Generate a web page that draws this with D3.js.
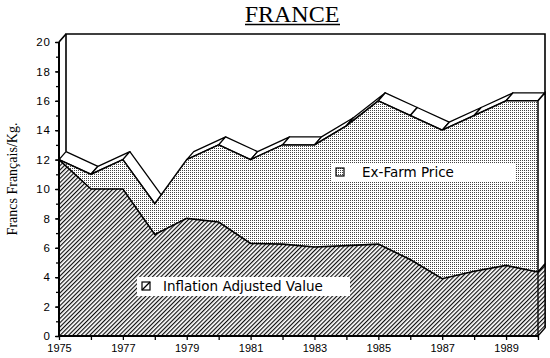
<!DOCTYPE html>
<html>
<head>
<meta charset="utf-8">
<script src="https://cdn.jsdelivr.net/npm/d3@7"></script>
<style>
  body { margin: 0; background: #fff; }
  svg { display: block; }
</style>
</head>
<body>
<svg width="550" height="358"></svg>
<script>
/*
Chart data
*/
var years = [1975, 1976, 1977, 1978, 1979, 1980, 1981, 1982, 1983, 1984, 1985, 1986, 1987, 1988, 1989, 1990];
var exFarmPrice = [12.0, 11.0, 12.0, 9.0, 12.0, 13.0, 12.0, 13.0, 13.0, 14.3, 16.0, 15.0, 14.0, 15.0, 16.0, 16.0];
var inflationAdjusted = [12.0, 10.0, 10.0, 6.9, 8.0, 7.75, 6.3, 6.25, 6.05, 6.15, 6.25, 5.2, 3.9, 4.4, 4.8, 4.35];
var xLabelYears = [1975, 1977, 1979, 1981, 1983, 1985, 1987, 1989];
var yTicks = [0, 2, 4, 6, 8, 10, 12, 14, 16, 18, 20];
var yMinorTicks = d3.range(0, 21, 1);

var svg = d3.select('svg');

// 3D depth offset of the back wall
var dx = 7, dy = -8;

var x = d3.scaleLinear().domain([1975, 1990]).range([59, 538]);
var y = d3.scaleLinear().domain([0, 20]).range([336, 42]);

/*
Fill patterns
*/
var defs = svg.append('defs');
var stip = defs.append('pattern').attr('id', 'stipple')
	.attr('patternUnits', 'userSpaceOnUse').attr('width', 2).attr('height', 2);
stip.append('rect').attr('width', 2).attr('height', 2).attr('fill', '#fff');
stip.append('rect').attr('width', 1).attr('height', 1).attr('fill', '#444');

var hatch = defs.append('pattern').attr('id', 'hatch')
	.attr('patternUnits', 'userSpaceOnUse').attr('width', 3).attr('height', 3)
	.attr('patternTransform', 'rotate(45)');
hatch.append('rect').attr('width', 3).attr('height', 3).attr('fill', '#fff');
hatch.append('line').attr('x1', 0.6).attr('y1', 0).attr('x2', 0.6).attr('y2', 3)
	.attr('stroke', '#000').attr('stroke-width', 1.1);

/*
Back wall of the box
*/
var frame = svg.append('g').attr('fill', 'none').attr('stroke', '#000').attr('stroke-width', 1.6);
frame.append('path').attr('d', d3.line()([
	[x(1975) + dx, y(12) + dy], [x(1975) + dx, y(20) + dy], [x(1990) + dx, y(20) + dy], [x(1990) + dx, y(0) + dy]
]));
frame.append('line').attr('x1', x(1975)).attr('y1', y(20)).attr('x2', x(1975) + dx).attr('y2', y(20) + dy);

/*
Top ribbon of the Ex-Farm price (only the faces turned to the viewer)
*/
var ribbon = svg.append('g');
for (var i = 0; i < years.length - 1; i++) {
	var p0 = [x(years[i]), y(exFarmPrice[i])];
	var p1 = [x(years[i + 1]), y(exFarmPrice[i + 1])];
	var ddx = p1[0] - p0[0], ddy = p1[1] - p0[1];
	var cross = ddx * dy - ddy * dx;
	if (cross > 0) continue; // face hidden behind the steep front
	ribbon.append('path')
		.attr('d', d3.line()([p0, p1, [p1[0] + dx, p1[1] + dy], [p0[0] + dx, p0[1] + dy]]) + 'Z')
		.attr('fill', '#fff').attr('stroke', '#000').attr('stroke-width', 1.3)
		.attr('stroke-linejoin', 'round');
}

/*
Ex-Farm price area
*/
var areaEx = d3.area()
	.x(function(d, i){ return x(years[i]); })
	.y0(y(0))
	.y1(function(d){ return y(d); });
var lineTop = d3.line()
	.x(function(d, i){ return x(years[i]); })
	.y(function(d){ return y(d); });

svg.append('path').attr('d', areaEx(exFarmPrice)).attr('fill', 'url(#stipple)');
svg.append('path').attr('d', lineTop(exFarmPrice)).attr('fill', 'none')
	.attr('stroke', '#000').attr('stroke-width', 1.5);

// right side face of the price block
var last = years.length - 1;
svg.append('path')
	.attr('d', d3.line()([
		[x(1990), y(exFarmPrice[last])], [x(1990) + dx, y(exFarmPrice[last]) + dy],
		[x(1990) + dx, y(inflationAdjusted[last]) + dy], [x(1990), y(inflationAdjusted[last])]
	]) + 'Z')
	.attr('fill', '#fff').attr('stroke', '#000').attr('stroke-width', 1.5);

/*
Inflation adjusted value area
*/
svg.append('path').attr('d', areaEx(inflationAdjusted)).attr('fill', 'url(#hatch)');
svg.append('path').attr('d', lineTop(inflationAdjusted)).attr('fill', 'none')
	.attr('stroke', '#000').attr('stroke-width', 1.6);
svg.append('path')
	.attr('d', d3.line()([
		[x(1990), y(inflationAdjusted[last])], [x(1990) + dx, y(inflationAdjusted[last]) + dy],
		[x(1990) + dx, y(0) + dy], [x(1990), y(0)]
	]) + 'Z')
	.attr('fill', 'url(#hatch)').attr('stroke', '#000').attr('stroke-width', 1.3);

/*
Axes
*/
var axisFont = '"Liberation Sans", Arial, sans-serif';

var yMinor = svg.append('g').attr('transform', 'translate(' + x(1975) + ',0)')
	.call(d3.axisLeft(y).tickValues(yMinorTicks).tickSize(3).tickFormat(''));
var yAxis = svg.append('g').attr('transform', 'translate(' + x(1975) + ',0)')
	.call(d3.axisLeft(y).tickValues(yTicks).tickSize(4).tickPadding(4));
var xAxis = svg.append('g').attr('transform', 'translate(0,' + y(0) + ')')
	.call(d3.axisBottom(x).tickValues(years).tickSize(4).tickPadding(4)
		.tickFormat(function(d){ return xLabelYears.indexOf(d) >= 0 ? d : ''; }));

[yMinor, yAxis, xAxis].forEach(function(g){
	g.select('.domain').remove();
	g.selectAll('.tick line').attr('stroke', '#000').attr('stroke-width', 1.3);
	g.selectAll('text').attr('fill', '#000').style('font-family', axisFont);
});
yAxis.selectAll('text').style('font-size', '11.5px').style('letter-spacing', '1px');
xAxis.selectAll('text').style('font-size', '11px');

svg.append('line').attr('x1', x(1975)).attr('y1', y(20)).attr('x2', x(1975)).attr('y2', y(0) + 1)
	.attr('stroke', '#000').attr('stroke-width', 2);
svg.append('line').attr('x1', x(1975)).attr('y1', y(0)).attr('x2', x(1990)).attr('y2', y(0))
	.attr('stroke', '#000').attr('stroke-width', 2);

/*
Legend labels sitting on the areas
*/
function legendLabel(bx, by, bw, sx, tx, label, fill, slash){
	var g = svg.append('g');
	g.append('rect').attr('x', bx).attr('y', by).attr('width', bw).attr('height', 19).attr('fill', '#fff');
	g.append('rect').attr('x', sx).attr('y', by + 5).attr('width', 8).attr('height', 8)
		.attr('fill', fill).attr('stroke', '#000').attr('stroke-width', 1.2);
	if (slash) {
		g.append('line').attr('x1', sx).attr('y1', by + 13).attr('x2', sx + 8).attr('y2', by + 5)
			.attr('stroke', '#000').attr('stroke-width', 1.2);
	}
	g.append('text').attr('x', tx).attr('y', by + 14)
		.style('font-family', '"DejaVu Sans", sans-serif').style('font-size', '13.5px')
		.text(label);
}
legendLabel(331, 163, 184, 336, 362, 'Ex-Farm Price', 'url(#stipple)', false);
legendLabel(137, 277, 213, 142, 163, 'Inflation Adjusted Value', '#fff', true);

/*
Title and y label
*/
svg.append('text').attr('x', 292).attr('y', 22).attr('text-anchor', 'middle')
	.style('font-family', '"Liberation Serif", "Times New Roman", serif').style('font-size', '24px')
	.text('FRANCE');
svg.append('line').attr('x1', 245).attr('x2', 340).attr('y1', 24.5).attr('y2', 24.5)
	.attr('stroke', '#000').attr('stroke-width', 1.5);

svg.append('text').attr('transform', 'translate(17,179) rotate(-90)').attr('text-anchor', 'middle')
	.style('font-family', '"Liberation Serif", "Times New Roman", serif').style('font-size', '14px')
	.text('Francs Français/Kg.');
</script>
</body>
</html>
